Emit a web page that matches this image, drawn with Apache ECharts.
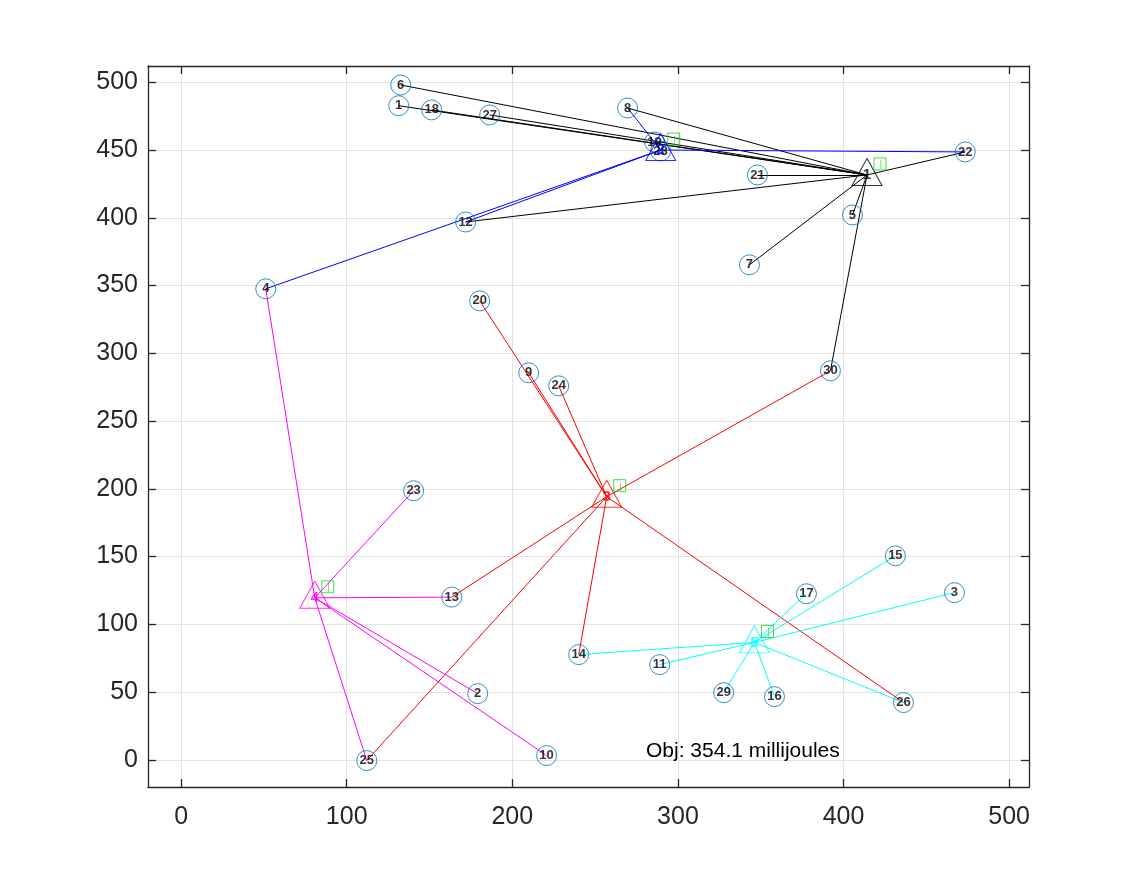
<!DOCTYPE html>
<html>
<head>
<meta charset="utf-8">
<script src="https://cdn.jsdelivr.net/npm/echarts@6/dist/echarts.min.js"></script>
<style>
html,body{margin:0;padding:0;background:#fff;}
#chart{width:1138px;height:885px;}
</style>
</head>
<body>
<div id="chart"></div>
<script>
// ---- data ----
const nodeIds = [1,2,3,4,5,6,7,8,9,10,11,12,13,14,15,16,17,18,19,20,21,22,23,24,25,26,27,28,29,30];
const nodeX = [131.4,179.1,467.0,51.1,405.4,132.6,343.2,269.6,209.9,220.7,289.0,171.8,163.4,240.1,431.3,358.3,377.6,151.3,285.9,180.3,348.0,473.5,140.4,228.0,112.1,436.2,186.3,289.5,327.6,392.1];
const nodeY = [482.7,48.9,123.4,347.6,402.1,498.0,365.3,481.0,285.6,3.2,70.3,396.9,120.1,77.7,150.6,46.7,122.6,479.6,455.9,338.7,431.6,448.6,198.6,276.0,-0.5,42.3,475.9,449.3,49.6,287.1];

const headIds = [1,2,3,4,5];
const headX = [414.2,289.6,257.0,80.7,346.2];
const headY = [431.6,450.0,194.2,119.6,86.7];

const members1 = [6,1,18,27,8,12,21,22,7,5,30];
const members2 = [4,12,8,22,19];
const members3 = [20,9,24,30,13,25,14,26];
const members4 = [4,23,13,2,10,25];
const members5 = [14,11,29,16,26,17,15,3];
const clusterMembers = [members1,members2,members3,members4,members5];

const xTicks = [0,100,200,300,400,500];
const yTicks = [0,50,100,150,200,250,300,350,400,450,500];
const axisMin = -20, axisMax = 512;
const objText = 'Obj: 354.1 millijoules';

// ---- styles ----
const clusterColors = ['#000000','#0000ff','#ff0000','#ff00ff','#00ffff'];
const axisColor = '#262626';
const gridColor = '#e3e3e3';
const nodeColor = '#0072BD';
const greenColor = '#14d214';
const FONT = '"Liberation Sans", Arial, Helvetica, sans-serif';

function nodePos(id){ const i = nodeIds.indexOf(id); return [nodeX[i], nodeY[i]]; }

const lineSeries = clusterMembers.map((mem, c) => ({
  type: 'lines',
  coordinateSystem: 'cartesian2d',
  z: 2,
  silent: true,
  lineStyle: { color: clusterColors[c], width: 1, opacity: 1 },
  data: mem.map(id => ({ coords: [nodePos(id), [headX[c], headY[c]]] }))
}));

function mkXAxis(pos, labels){
  return {
    type: 'value', position: pos, min: axisMin, max: axisMax,
    axisLine: { show: true, onZero: false, lineStyle: { color: axisColor, width: 1.3 } },
    axisTick: { show: true, inside: true, length: 8, customValues: xTicks, lineStyle: { color: axisColor, width: 1.3 } },
    axisLabel: { show: labels, customValues: xTicks, margin: 18, color: axisColor, fontSize: 25, fontFamily: FONT },
    splitLine: { show: labels, lineStyle: { color: gridColor, width: 1 } }
  };
}
function mkYAxis(pos, labels){
  return {
    type: 'value', position: pos, min: axisMin, max: axisMax,
    axisLine: { show: true, onZero: false, lineStyle: { color: axisColor, width: 1.3 } },
    axisTick: { show: true, inside: true, length: 8, customValues: yTicks, lineStyle: { color: axisColor, width: 1.3 } },
    axisLabel: { show: labels, customValues: yTicks, margin: 10, color: axisColor, fontSize: 25, fontFamily: FONT },
    splitLine: { show: labels, lineStyle: { color: gridColor, width: 1 } }
  };
}

const chart = echarts.init(document.getElementById('chart'), null, { renderer: 'canvas' });
chart.setOption({
  backgroundColor: '#ffffff',
  animation: false,
  grid: { left: 148, right: 109, top: 66, bottom: 98, containLabel: false },
  xAxis: [mkXAxis('bottom', true), mkXAxis('top', false)],
  yAxis: [mkYAxis('left', true), mkYAxis('right', false)],
  graphic: [{
    type: 'text', left: 646, top: 741, z: 100,
    style: { text: objText, fontSize: 21, fontFamily: FONT, fill: '#000' }
  }],
  series: [
    ...lineSeries,
    {
      type: 'scatter', z: 3, silent: true,
      symbol: 'circle', symbolSize: 20,
      itemStyle: { color: 'rgba(0,0,0,0)', borderColor: nodeColor, borderWidth: 1 },
      label: { show: true, position: 'inside', formatter: p => String(p.value[2]),
               color: '#000', fontSize: 13, fontWeight: 'bold', fontFamily: FONT },
      data: nodeIds.map((id, i) => [nodeX[i], nodeY[i], id])
    },
    {
      type: 'scatter', z: 4, silent: true,
      symbol: 'triangle', symbolSize: [30, 27], symbolOffset: [0, -3],
      data: headIds.map((id, i) => ({
        value: [headX[i], headY[i], id],
        itemStyle: { color: 'rgba(0,0,0,0)', borderColor: clusterColors[i], borderWidth: 1 },
        label: { show: true, position: 'inside', offset: [0, 3], formatter: String(id),
                 color: clusterColors[i], fontSize: 15, fontWeight: 'bold', fontFamily: FONT }
      }))
    },
    {
      type: 'scatter', z: 5, silent: true,
      symbol: 'rect', symbolSize: 12, symbolOffset: [13, -11],
      itemStyle: { color: 'rgba(0,0,0,0)', borderColor: greenColor, borderWidth: 1 },
      label: { show: true, position: 'inside', offset: [1, 1], formatter: '|',
               color: greenColor, fontSize: 9, fontFamily: FONT },
      data: headIds.map((id, i) => [headX[i], headY[i]])
    }
  ]
});
</script>
</body>
</html>
